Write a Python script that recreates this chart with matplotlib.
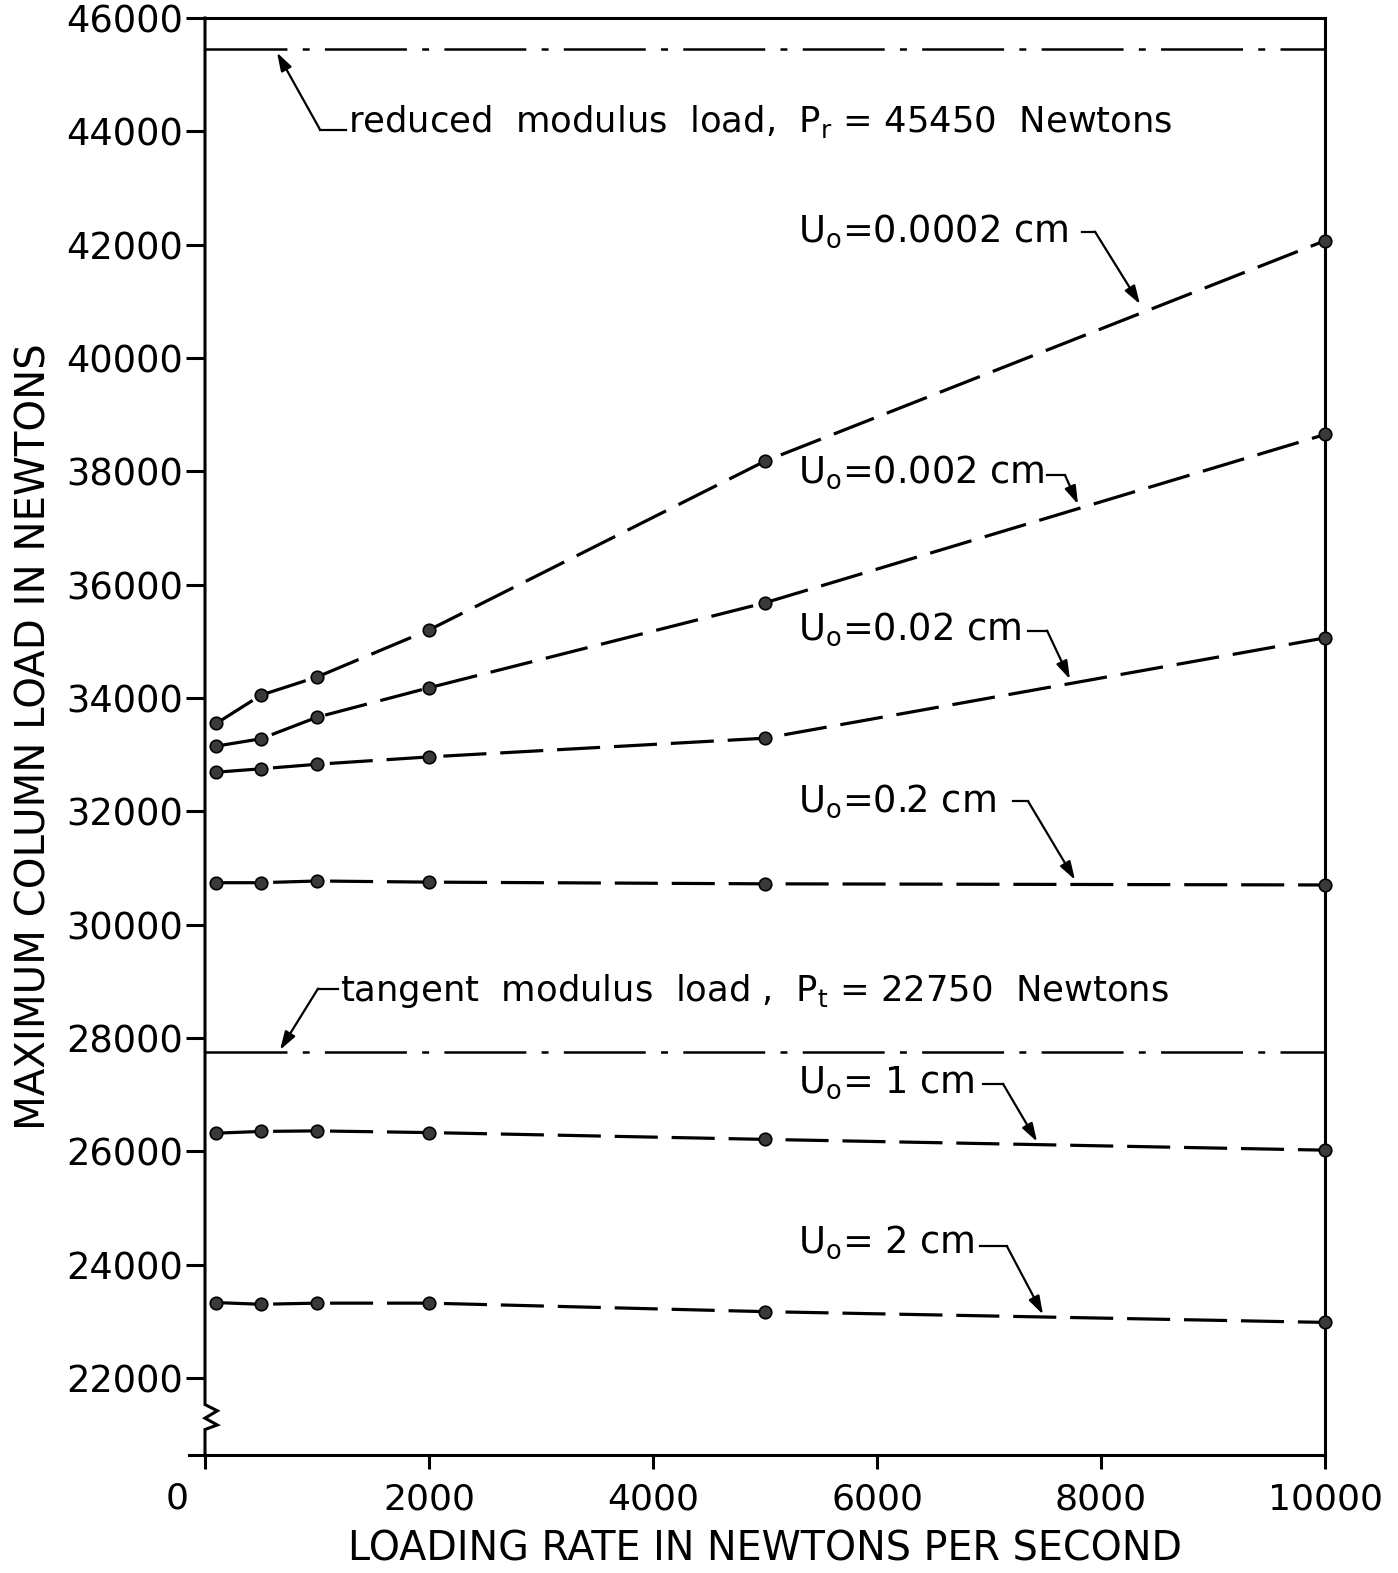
import matplotlib
matplotlib.use("Agg")
import matplotlib.pyplot as plt
from matplotlib.lines import Line2D

plt.rcParams['font.family'] = ['DejaVu Sans']
plt.rcParams['mathtext.fontset'] = 'dejavusans'
plt.rcParams['mathtext.default'] = 'regular'
plt.rcParams['lines.scale_dashes'] = False

# ---- data ----
loading_rate = [100, 500, 1000, 2000, 5000, 10000]
u_0p0002 = [33550, 34050, 34370, 35200, 38180, 42070]
u_0p002 = [33150, 33280, 33660, 34180, 35680, 38650]
u_0p02 = [32690, 32750, 32830, 32960, 33290, 35060]
u_0p2 = [30740, 30740, 30770, 30750, 30720, 30700]
u_1 = [26320, 26350, 26360, 26330, 26210, 26020]
u_2 = [23330, 23300, 23320, 23320, 23170, 22980]
series = [u_0p0002, u_0p002, u_0p02, u_0p2, u_1, u_2]

p_reduced = 45450
p_tangent = 27750

x_ticks = [2000, 4000, 6000, 8000, 10000]
y_ticks = list(range(22000, 46001, 2000))

W, H = 1398, 1573
fig = plt.figure(figsize=(W / 100, H / 100), dpi=100)
ax = fig.add_axes([205 / W, 1 - 1455 / H, 1120 / W, (1455 - 18) / H])
ax.set_xlim(0, 10000)
ax.set_ylim(20640, 46000)

lw_axis = 2.2
for s in ['top', 'right', 'bottom']:
    ax.spines[s].set_linewidth(lw_axis)
ax.spines['left'].set_visible(False)

# left spine with axis break
ylo, ybreak_lo, ybreak_hi = 20640, 21090, 21530
dx = 110
brk_x = [0, 0, dx, 0, dx, 0, 0]
brk_y = [ylo, ybreak_lo, ybreak_lo + 80, ybreak_lo + 200, ybreak_lo + 330, ybreak_hi, 46000]
ax.add_line(Line2D(brk_x, brk_y, color='black', lw=lw_axis, clip_on=False,
                   solid_joinstyle='miter'))
# bottom axis extends slightly left of origin
ax.add_line(Line2D([-140, 0], [20640, 20640], color='black', lw=lw_axis, clip_on=False))

ax.set_xticks([0] + x_ticks)
ax.set_xticklabels([''] + [str(v) for v in x_ticks])
ax.set_yticks(y_ticks)
ax.set_yticklabels([str(v) for v in y_ticks])
ax.tick_params(axis='x', direction='out', length=10, width=2.2, pad=10, labelsize=26)
ax.tick_params(axis='y', direction='out', length=14, width=2.2, pad=2, labelsize=26.5)
ax.text(-250, 20640 - 760, '0', ha='center', va='center', fontsize=26, clip_on=False)

ax.set_xlabel('LOADING RATE IN NEWTONS PER SECOND', fontsize=28.5, labelpad=9)
ax.set_ylabel('MAXIMUM COLUMN LOAD IN NEWTONS', fontsize=29, labelpad=8)

# reference load lines
dashdot = (0, (59, 11, 5, 11))
ax.axhline(p_reduced, color='black', lw=1.8, linestyle=dashdot)
ax.axhline(p_tangent, color='black', lw=1.8, linestyle=dashdot)

# data series
for ys in series:
    ax.plot(loading_rate, ys, color='black', lw=2.3, linestyle=(0, (31, 10)),
            marker='o', markersize=9, markerfacecolor='#3a3a3a',
            markeredgecolor='black', markeredgewidth=1.2, clip_on=False, zorder=3)

arrow_kw = dict(arrowstyle='-|>,head_length=1.1,head_width=0.35', color='black',
                lw=1.6, shrinkA=0, shrinkB=0)

# annotations: (text, text_x, text_baseline_y, seg_x0, seg_x1, seg_y, tip_x, tip_y)
labels = [
    (r'U$_{o}$=0.0002 cm', 5295, 42050, 7830, 7946, 42230, 8348, 40950),
    (r'U$_{o}$=0.002 cm', 5295, 37800, 7518, 7679, 37930, 7795, 37420),
    (r'U$_{o}$=0.02 cm', 5295, 35030, 7348, 7518, 35190, 7723, 34330),
    (r'U$_{o}$=0.2 cm', 5295, 32000, 7214, 7348, 32180, 7768, 30790),
    (r'U$_{o}$= 1 cm', 5295, 27040, 6946, 7125, 27190, 7429, 26170),
    (r'U$_{o}$= 2 cm', 5295, 24210, 6920, 7161, 24320, 7482, 23120),
]
for txt, tx, ty, sx0, sx1, sy, ax_, ay_ in labels:
    ax.text(tx, ty, txt, fontsize=26.5, ha='left', va='baseline')
    ax.add_line(Line2D([sx0, sx1], [sy, sy], color='black', lw=1.6))
    ax.annotate('', xy=(ax_, ay_), xytext=(sx1, sy), arrowprops=arrow_kw)

# reduced modulus annotation
ax.text(1277, 43990, r'reduced  modulus  load,  P$_{r}$ = 45450  Newtons',
        fontsize=25.5, ha='left', va='baseline')
ax.add_line(Line2D([1027, 1260], [44030, 44030], color='black', lw=1.6))
ax.annotate('', xy=(643, 45390), xytext=(1027, 44030), arrowprops=arrow_kw)

# tangent modulus annotation
ax.text(1205, 28650, r'tangent  modulus  load ,  P$_{t}$ = 22750  Newtons',
        fontsize=25.5, ha='left', va='baseline')
ax.add_line(Line2D([1009, 1190], [28870, 28870], color='black', lw=1.6))
ax.annotate('', xy=(670, 27790), xytext=(1009, 28870), arrowprops=arrow_kw)

fig.savefig('out.png', dpi=100)
